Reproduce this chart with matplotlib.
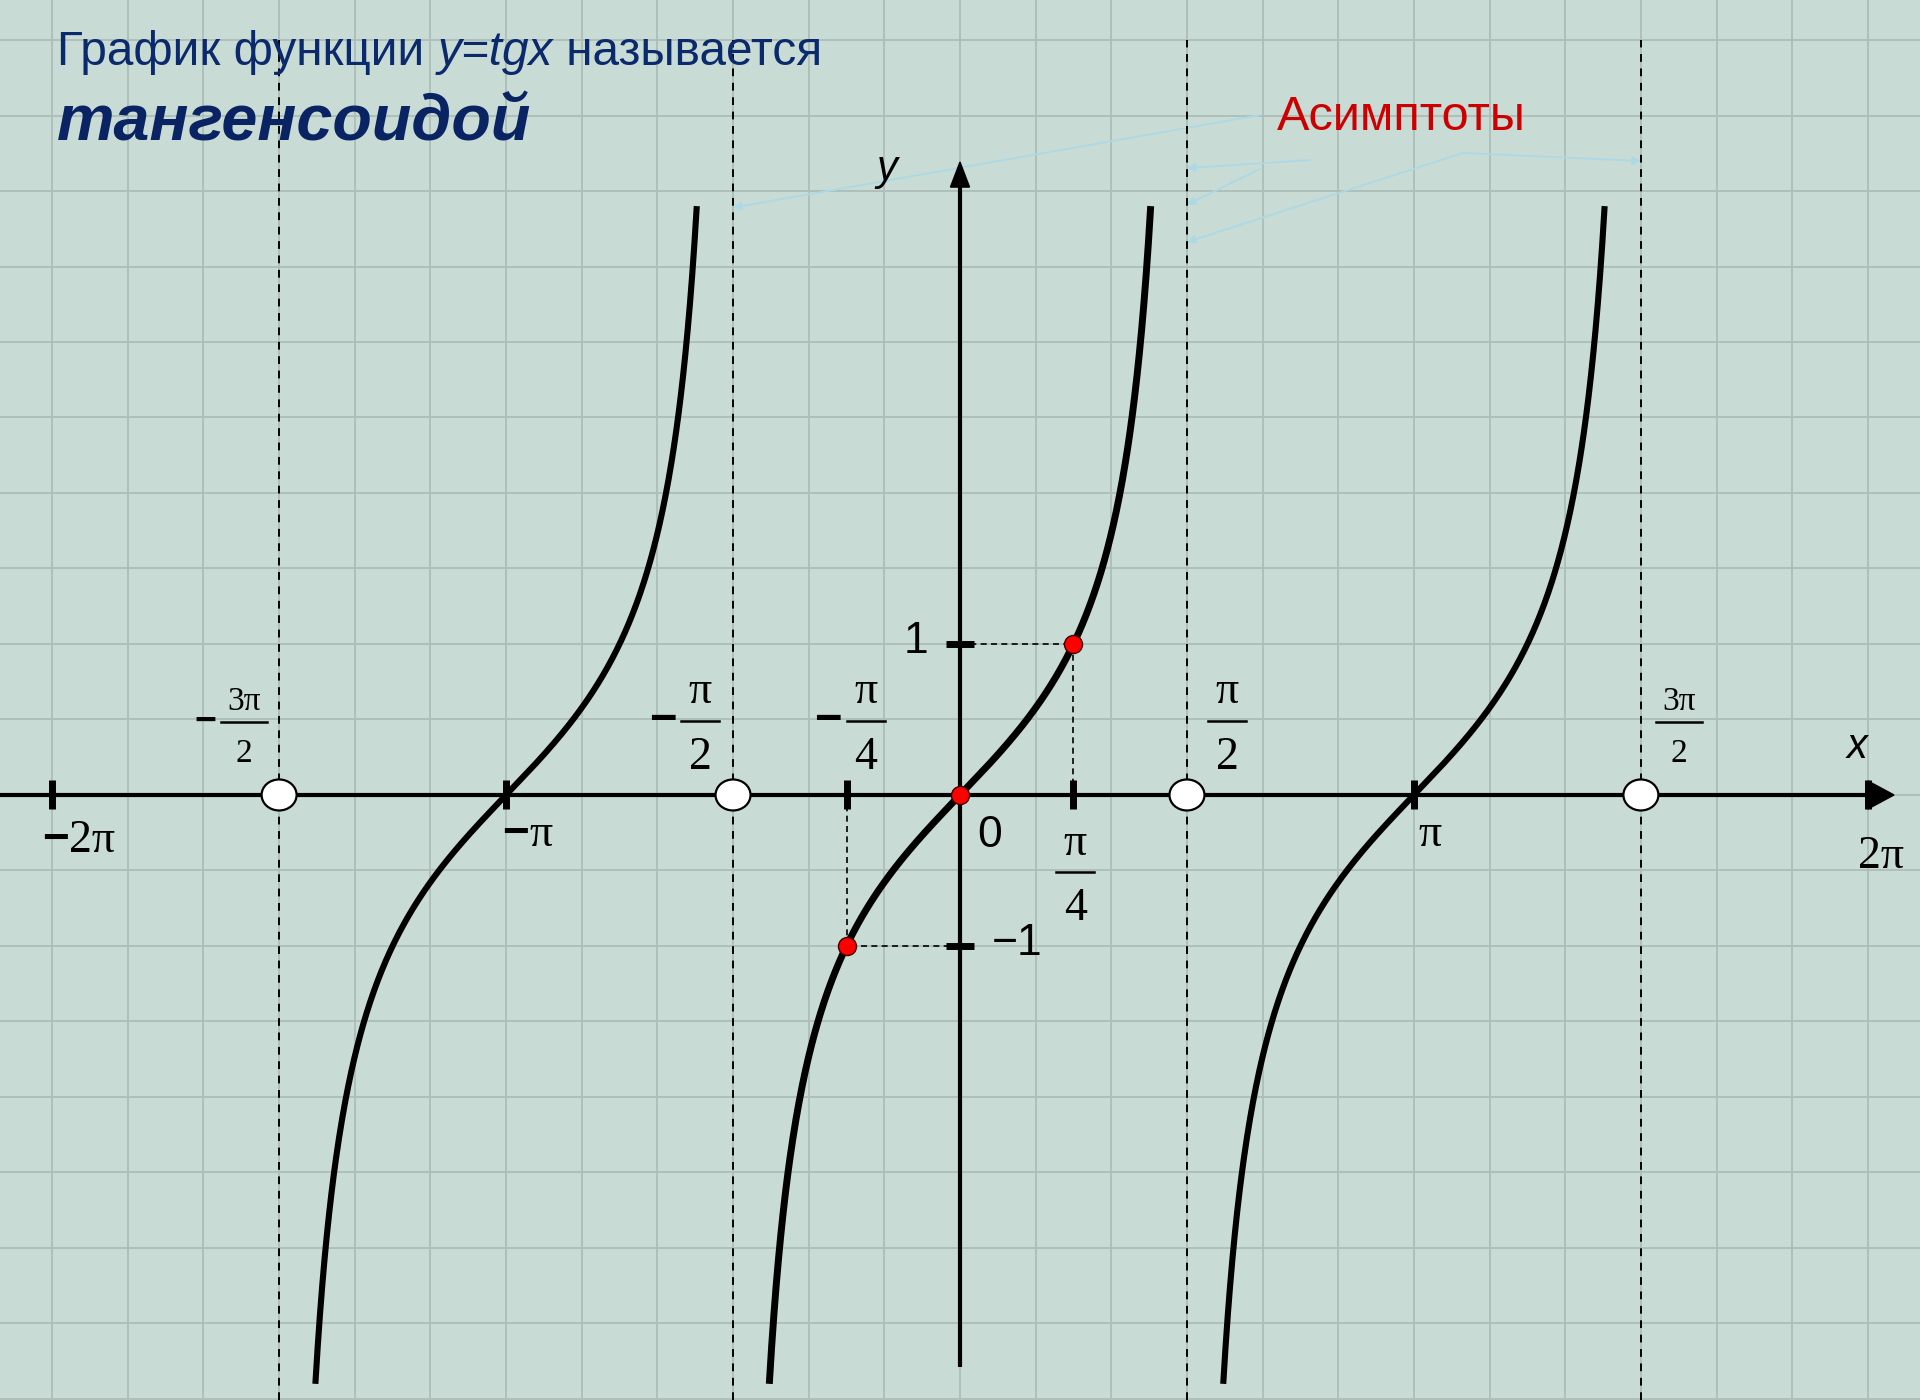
# tangent graph (тангенсоида) with asymptotes

import numpy as np
import matplotlib
matplotlib.use('Agg')
from matplotlib import pyplot as plt
from matplotlib.patches import Ellipse

# --- data ---
branch_centers = [-np.pi, 0.0, np.pi]
asymptotes = [-3 * np.pi / 2, -np.pi / 2, np.pi / 2, 3 * np.pi / 2]
x_ticks = [-2 * np.pi, -np.pi, -np.pi / 4, np.pi / 4, np.pi, 2 * np.pi]
y_ticks = [-1, 1]
red_x = [-np.pi / 4, 0.0, np.pi / 4]
red_y = [-1.0, 0.0, 1.0]
y_clip = 3.9

tick_label_x = [-2 * np.pi, -np.pi, np.pi, 2 * np.pi]
tick_labels = ['2π', 'π', 'π', '2π']
tick_neg = [True, True, False, False]
frac_x = [-3 * np.pi / 2, -np.pi / 2, -np.pi / 4, np.pi / 4, np.pi / 2, 3 * np.pi / 2]
frac_num = ['3π', 'π', 'π', 'π', 'π', '3π']
frac_den = ['2', '2', '4', '4', '2', '2']
frac_neg = [True, True, True, False, False, False]

# --- layout ---
XMIN, XMAX = -6.644, 6.644
YMIN, YMAX = -4.007, 5.265
W, H = 1920, 1400
KX = W / (XMAX - XMIN)   # px per x unit
KY = H / (YMAX - YMIN)   # px per y unit

bg = '#c9dbd5'
navy = '#0b2a6c'
serif = 'Liberation Serif'
sans = 'Liberation Sans'

fig = plt.figure(figsize=(19.2, 14), dpi=100)
fig.patch.set_facecolor(bg)
ax = fig.add_axes([0, 0, 1, 1])
ax.set_facecolor(bg)
for s in ax.spines.values():
    s.set_visible(False)

# notebook grid (set ticks before limits, set_ticks widens the view)
ax.set_xticks(np.arange(-13, 14) * np.pi / 6)
ax.set_yticks(np.arange(-8, 11) * 0.5)
ax.tick_params(length=0, labelbottom=False, labelleft=False)
ax.grid(True, color='#adbeb8', lw=1.3)
ax.set_axisbelow(True)
ax.set_xlim(XMIN, XMAX)
ax.set_ylim(YMIN, YMAX)

# asymptotes
for a in asymptotes:
    ax.plot([a, a], [YMIN, 5.0], color='black', lw=1.4, dashes=(4.0, 3.4), zorder=2)

# dashed guides to +-1
for xv, yv in zip([np.pi / 4, -np.pi / 4], [1, -1]):
    ax.plot([0, xv], [yv, yv], color='black', lw=1.2, dashes=(3.6, 2.6), zorder=2)
    ax.plot([xv, xv], [0, yv], color='black', lw=1.2, dashes=(3.6, 2.6), zorder=2)

# axes
ax.plot([XMIN, 2 * np.pi], [0, 0], color='black', lw=3, zorder=3, solid_capstyle='butt')
ax.fill([2 * np.pi, 6.464, 2 * np.pi], [0.093, 0, -0.093], color='black', zorder=3)
ax.plot([0, 0], [-3.79, 4.03], color='black', lw=3, zorder=3, solid_capstyle='butt')
ax.fill([-0.066, 0, 0.066], [4.026, 4.192, 4.026], color='black', zorder=3)

# ticks
for t in x_ticks:
    ax.plot([t, t], [-0.096, 0.096], color='black', lw=5, zorder=4, solid_capstyle='butt')
for t in y_ticks:
    ax.plot([-0.1, 0.1], [t, t], color='black', lw=5, zorder=4, solid_capstyle='butt')

# tangent branches
half = np.arctan(y_clip)
for c in branch_centers:
    xs = np.linspace(c - half, c + half, 500)
    lw = 5 if c == 0 else 4.4
    ax.plot(xs, np.tan(xs - c), color='black', lw=lw, zorder=5, solid_capstyle='butt')

# open points at asymptotes
for a in asymptotes:
    ax.add_patch(Ellipse((a, 0), 35 / KX, 31 / KY, facecolor='white',
                         edgecolor='black', lw=1.6, zorder=6))

# red points
ax.plot(red_x, red_y, 'o', ms=13, mfc='#ff0000', mec='#400000', mew=1, zorder=7)

# tick labels on x axis
lab_dx = [17, 23, 4, -10]
lab_dy = [-57, -51, -51, -73]
for t, s, neg, dx, dy in zip(tick_label_x, tick_labels, tick_neg, lab_dx, lab_dy):
    txt = ax.text(t + dx / KX, dy / KY, s, ha='left', va='baseline',
                  fontsize=33, family=serif)
    if neg:
        ax.annotate('−', xy=(0, 0), xycoords=txt, ha='right', va='bottom',
                    fontsize=33, family=sans, weight='bold')
ax.text(30 / KX, -52 / KY, '0', ha='center', va='baseline', fontsize=32, family=sans)
ax.text(-44 / KX, 1 - 9 / KY, '1', ha='center', va='baseline', fontsize=32, family=sans)
ax.text(57 / KX, -1 - 9 / KY, '−1', ha='center', va='baseline', fontsize=32, family=sans)
ax.text(6.207, 0.245, 'x', ha='center', va='baseline', fontsize=30, family=sans, style='italic')
ax.text(-0.505, 4.073, 'y', ha='center', va='baseline', fontsize=30, family=sans, style='italic')

# fractions
frac_dx = [-35.5, -33, 19, 2, 40, 38]
minus_dx = [-74, -70, -18.5, 0, 0, 0]
for xv, num, den, neg, dx, mdx in zip(frac_x, frac_num, frac_den, frac_neg, frac_dx, minus_dx):
    small = num == '3π'
    size = 24 if small else 33
    if xv == np.pi / 4:
        nb, bar, db = -60, -77, -125
    elif small:
        nb, bar, db = 85, 73, 33
    else:
        nb, bar, db = 92, 74, 26
    hw = 23 if small else 19
    cx = xv + dx / KX
    ax.text(cx, nb / KY, num, ha='center', va='baseline', fontsize=size, family=serif)
    ax.plot([cx - hw / KX, cx + hw / KX], [bar / KY, bar / KY], color='black', lw=1.8)
    ax.text(cx, db / KY, den, ha='center', va='baseline', fontsize=size, family=serif)
    if neg:
        ax.text(xv + mdx / KX, bar / KY, '−', ha='center', va='center',
                fontsize=27 if small else 34, family=sans, weight='bold')

# pointers from "Асимптоты"
pointers = [((2.076, 4.503), (-np.pi / 2, 3.89)),
            ((2.422, 4.205), (np.pi / 2, 4.152)),
            ((2.076, 4.146), (np.pi / 2, 3.91)),
            ((3.481, 4.252), (np.pi / 2, 3.662)),
            ((3.481, 4.252), (3 * np.pi / 2, 4.199))]
for start, end in pointers:
    ax.annotate('', xy=end, xytext=start,
                arrowprops=dict(arrowstyle='-|>', color='#acd9e6', lw=1.3,
                                mutation_scale=12, shrinkA=0, shrinkB=0), zorder=1)

ax.text((1277 - 960) / KX, (795 - 130) / KY, 'Асимптоты',
        fontsize=35, family=sans, color='#cc0000', va='baseline')

# title
t1 = fig.text(57 / W, 1 - 65 / H, 'График функции ', fontsize=34.4, family=sans,
              color=navy, va='baseline')
t2 = ax.annotate('y=tgx', xy=(1, 0), xycoords=t1, va='bottom', fontsize=34.4,
                 family=sans, style='italic', color=navy)
ax.annotate(' называется', xy=(1, 0), xycoords=t2, va='bottom', fontsize=34.4,
            family=sans, color=navy)
fig.text(57 / W, 1 - 140 / H, 'тангенсоидой', fontsize=46.5, family=sans,
         weight='bold', style='italic', color='#0a2463', va='baseline')

plt.savefig('out.png', dpi=100, facecolor=bg)
